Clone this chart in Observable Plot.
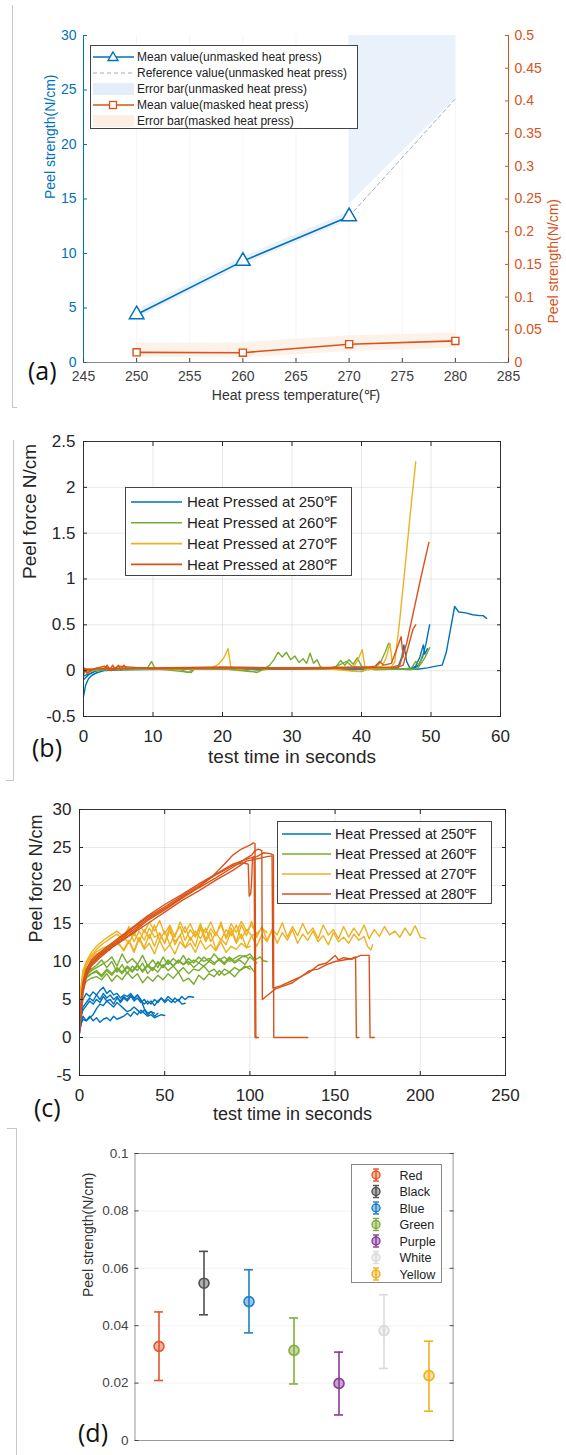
<!DOCTYPE html>
<html><head><meta charset="utf-8">
<script src="https://cdn.jsdelivr.net/npm/d3@7"></script>
<script src="https://cdn.jsdelivr.net/npm/@observablehq/plot@0.6"></script>
<style>
body{margin:0;background:#fff;}
#root{position:relative;width:566px;height:1455px;overflow:hidden;font-family:"Liberation Sans",Arial,sans-serif;}
.tag{position:absolute;font-family:"Open Sans",sans-serif;font-size:25px;line-height:1;color:#111;transform:translateY(-50%);}
.brk{position:absolute;background:#c8c8c8;}
</style></head><body><div id="root"></div><script>
// ---------------- Panel (a) data ----------------
const tempTicksA = [245,250,255,260,265,270,275,280,285];
const leftTicksA = [0,5,10,15,20,25,30];
const rightTicksA = [0,0.05,0.1,0.15,0.2,0.25,0.3,0.35,0.4,0.45,0.5];
const unmaskedTemps = [250,260,270];
const unmaskedMean = [4.4,9.3,13.4];
const referenceTemps = [270,280];
const referenceMean = [13.4,24.2];
const unmaskedBandTemps = [250,260,270,270,280];
const unmaskedBandLow = [4.0,8.9,13.0,14.5,24.2];
const unmaskedBandHigh = [4.8,9.7,13.8,31,31];
const maskedTemps = [250,260,270,280];
const maskedMean = [0.0155,0.015,0.028,0.033];
const maskedBandLow = [0.008,0.007,0.017,0.022];
const maskedBandHigh = [0.03,0.03,0.041,0.045];
const legendA = ["Mean value(unmasked heat press)","Reference value(unmasked heat press)","Error bar(unmasked heat press)","Mean value(masked heat press)","Error bar(masked heat press)"];

// ---------------- Panel (b) data ----------------
const ticksBx = [0,10,20,30,40,50,60];
const ticksBy = [-0.5,0,0.5,1,1.5,2,2.5];
const b250 = [
 [[0,-0.28],[0.3,-0.16],[0.7,-0.09],[1.2,-0.05],[2,-0.02],[3,0],[6,0.01],[12,0.015],[20,0.02],[30,0.015],[40,0.02],[46,0.02],[47.5,0.02],[48.2,0.06],[48.8,0.15],[49.3,0.3],[49.8,0.5]],
 [[0,-0.06],[1,-0.03],[2,0],[5,0.02],[15,0.02],[25,0.02],[35,0.02],[44,0.02],[45.2,0.03],[45.8,0.15],[46.1,0.28],[46.5,0.1],[47,0.02],[47.8,0.05],[48.4,0.15],[48.9,0.28],[49.1,0.18],[49.5,0.24]],
 [[0,-0.1],[0.8,-0.04],[2,0.01],[8,0.02],[18,0.02],[28,0.02],[38,0.02],[46,0.02],[48,0.015],[49.5,0.03],[50.7,0.05],[51.6,0.06],[52.2,0.2],[52.8,0.45],[53.4,0.7],[54,0.64],[55,0.63],[56,0.61],[57,0.6],[57.5,0.6],[58,0.57]]
];
const b260 = [
 [[0,0],[2,0.02],[6,0.02],[9.2,0.03],[9.8,0.1],[10.3,0.02],[14,0.01],[15,-0.02],[16,0.02],[22,0.02],[25,-0.02],[26,0.02],[26.8,0.06],[27.4,0.12],[28,0.2],[28.6,0.15],[29.2,0.2],[29.8,0.12],[30.4,0.16],[31,0.09],[31.6,0.13],[32.1,0.08],[32.6,0.19],[33.1,0.08],[33.6,0.12],[34.1,0.04],[35,0.02],[36.3,0.04],[37,0.11],[37.6,0.06],[38.2,0.12],[38.8,0.07],[39.4,0.14],[40,0.05],[41,0.01],[42,0.03],[42.8,0.1],[43.4,0.2],[43.9,0.3]],
 [[0,0.02],[5,0.01],[10,0.02],[13,0],[15.5,-0.02],[16,0.02],[20,0.02],[24,-0.01],[27,0.02],[32,0.02],[36,0.02],[40,-0.01],[41,0.02],[45,0.02],[47,0.01],[48,0.02],[48.6,0.08],[49.1,0.14],[49.5,0.2],[49.8,0.25]],
 [[0,-0.01],[5,0.02],[12,0.02],[20,0.03],[30,0.02],[35,0.02],[36.5,0.05],[37.8,0.1],[38.6,0.05],[40,0.03],[42,0.01],[46,0.02],[47.2,0.03],[47.8,0.1],[48.3,0.06],[48.8,0.18]]
];
const b270 = [
 [[0,0],[3,0.03],[10,0.02],[18.5,0.03],[19.4,0.07],[20.2,0.14],[20.8,0.24],[21.2,0.04],[22,0.02],[30,0.03],[38.8,0.03],[39.5,0.12],[40.1,0.23],[40.5,0.04],[41.5,0.02],[44.2,0.03],[44.8,0.1],[45.5,0.55],[46.3,1.15],[47,1.7],[47.8,2.28]],
 [[0,0.02],[5,0.03],[15,0.02],[25,0.03],[35,0.02],[39.5,-0.01],[42,0.03],[43,0.05],[43.6,0.15],[44.1,0.3],[44.4,0.1]]
];
const b280 = [
 [[0,-0.05],[0.3,0.02],[1,0],[2,0.03],[3,0.02],[3.4,0.06],[3.8,0.01],[4.2,0.06],[4.6,0.01],[5,0.06],[5.4,0.01],[5.8,0.06],[6.2,0.02],[8,0.03],[15,0.03],[25,0.03],[35,0.03],[42,0.03],[44.5,0.04],[45.5,0.06],[46.5,0.3],[47.5,0.65],[48.5,1.0],[49.7,1.4]],
 [[0,0.04],[0.5,-0.03],[1.5,0.02],[3,0.05],[4,0],[5,0.05],[10,0.02],[20,0.03],[30,0.02],[40,0.03],[42,0.05],[42.6,0.1],[43.2,0.06],[44.3,0.08],[44.9,0.2],[45.7,0.37],[46,0.15]],
 [[0,0.01],[2,0.02],[10,0.03],[20,0.04],[30,0.03],[40,0.04],[45,0.03],[46,0.06],[46.8,0.28],[47.4,0.45],[47.8,0.5]]
];

// ---------------- Panel (c) data ----------------
const ticksCx = [0,50,100,150,200,250];
const ticksCy = [-5,0,5,10,15,20,25,30];
const c250 = [
 [[0,0.8],[1,1.8],[2,2.4],[4,2.2],[6,2.8],[8,2.2],[10,2.6],[12,2.0],[14,2.4],[16,2.6],[18,2.2],[20,2.8],[22,2.4],[24,2.6],[26,2.8],[28,3.2],[30,2.8],[32,3.4],[34,3.0],[36,3.6],[38,3.2],[40,2.8],[42,3.0],[44,2.6],[46,2.8],[48,3.0],[50,2.9]],
 [[0,1],[1,2.8],[2,3.6],[4,4.2],[6,4.8],[8,4.4],[10,5],[12,4.6],[14,5.4],[16,4.8],[18,5],[20,4.4],[22,5.2],[24,4.8],[26,5.4],[28,5],[30,5.6],[32,4.8],[34,5.2],[36,4.6],[38,5],[40,4.4],[42,4.8],[44,4.2],[46,4.8],[48,5.2],[50,4.6],[52,5],[54,4.6],[56,5.2],[58,4.8],[60,5.4],[62,5],[64,5.4],[67,5.3]],
 [[0,1.5],[1,3],[2,4],[4,4.6],[6,5.2],[8,4.8],[10,5.6],[12,5],[14,5.8],[16,5.2],[18,5.6],[20,5],[22,5.4],[24,4.6],[26,5.2],[28,4.8],[30,5.4],[32,5],[34,5.6],[36,4.8],[38,4.4],[40,4.8],[42,4.4],[44,5],[46,4.6],[48,5.2],[50,4.8],[52,5.4],[54,5],[56,4.6],[58,5],[60,4.4],[62,4.5]],
 [[0,1],[1,3.5],[2,5],[4,5.8],[6,5.4],[8,6],[10,5.6],[12,6.2],[14,6.6],[16,5.8],[18,6.2],[20,5.6],[22,5.8],[24,5.2],[26,5.6],[28,5.4],[30,5.8],[32,5.2],[34,5.6],[36,5],[38,3.8],[40,3.2],[42,3.4],[44,2.8],[46,3.2]],
 [[0,0.5],[1,2],[2,2.8],[4,2.2],[6,2.6],[8,3],[10,3.8],[12,4.4],[14,4.2],[16,4.8],[18,4.4],[20,4],[22,4.6],[24,4.2],[26,3.8],[28,3.4],[30,3.6],[32,4],[34,3.6],[36,3.2],[38,3.6],[40,3],[42,3.4],[44,3.2]]
];
const c260 = [
 [[0,2],[1,5],[2,7],[4,8.2],[7,8.8],[10,9.2],[13,9.6],[16,10],[19,10.6],[22,9.4],[25,11],[28,9.8],[31,10.4],[34,9.6],[37,10.8],[40,9.4],[43,10.2],[46,9.2],[49,10.6],[52,9.6],[55,10.4],[58,9.8],[61,10.8],[64,9.6],[67,10.2],[70,9.8],[73,10.6],[76,10],[79,11],[82,10.2],[85,10.6],[88,10],[91,10.4],[94,10.8],[97,10.6],[100,11],[103,10.2],[106,10.6],[108,10.1],[110,10]],
 [[0,1.5],[1,4.5],[2,6.5],[4,7.4],[7,7.8],[10,8],[13,7.6],[16,8.4],[19,7.4],[22,8.2],[25,7.6],[28,8.6],[31,7.8],[34,8.4],[37,7.2],[40,8],[43,7.4],[46,8.2],[49,7.6],[52,8.4],[55,7.8],[58,8.6],[61,7.4],[64,7.8],[67,7],[70,8.2],[73,7.6],[76,8.4],[79,8],[82,8.8],[85,8.2],[88,8.6],[91,8],[94,8.8],[97,9.2],[100,9.4],[102,8.8],[103,8.5]],
 [[0,3],[1,6],[2,7.5],[4,8.5],[7,9],[10,9.5],[13,10.2],[16,9.2],[19,10],[22,8.6],[25,9.6],[28,8.4],[31,9.4],[34,8.8],[37,9.8],[40,8.4],[43,9.2],[46,8.6],[49,9.6],[52,8.8],[55,9.4],[58,8.6],[61,9.2],[64,8.4],[67,9],[70,8.8],[73,9.4],[76,8.6],[79,9],[82,8.2],[85,9],[88,8.6],[91,9.2],[94,8.8],[97,9.4],[100,9]],
 [[0,2.5],[1,5.5],[2,7.2],[4,8],[7,8.4],[10,8.8],[13,8.2],[16,9],[19,8.4],[22,9.2],[25,8.6],[28,9.4],[31,8.8],[34,9.6],[37,8.6],[40,9.4],[43,8.8],[46,10],[49,9.2],[52,10.2],[55,9.4],[58,10],[61,9.6],[64,10.4],[67,9.8],[70,10.6],[73,10],[76,10.4],[79,9.8],[82,10.2],[85,9.6],[88,10.4],[91,9.8],[94,10.2],[97,9.6],[100,10.6],[102,10.2],[104,9.8]],
 [[0,2],[1,5],[2,6.8],[4,7.8],[7,8.4],[10,8.6],[13,8],[16,8.8],[19,8.2],[22,9],[25,8.4],[28,9.2],[31,8.6],[34,9.4],[37,8.8],[40,9.6],[43,9],[46,9.8],[49,9.2],[52,10],[55,9.4],[58,10.2],[61,9.6],[64,10],[67,9.2],[70,9.8],[73,9.4],[76,10],[79,9.6],[82,10.4],[85,9.8],[88,10.6],[91,10],[94,10.4],[97,10.8],[99,10.4]]
];
const c270 = [
 [[0,3],[1,6],[2,8],[4,9.8],[7,10.8],[10,11.3],[14,11.8],[18,12.2],[22,12.5],[26,13.2],[29,12.4],[32,13.8],[35,12.6],[38,14.2],[41,13],[44,14.8],[47,12.8],[50,14],[53,12.2],[56,13.6],[59,14.6],[62,12.8],[65,14.2],[68,13.2],[71,15],[74,12.9],[77,14.3],[80,13.4],[83,15.2],[86,13],[89,14.4],[92,12.6],[95,14.8],[98,13.4],[101,15.3],[104,13.2],[107,14.6],[110,12.8],[113,14.2],[116,13.5],[119,15.1],[122,13.2],[125,14.6],[128,13.4],[131,15],[134,13.6],[137,14.4],[140,13],[143,14.8],[146,13.5],[149,14.2],[152,13],[155,14.6],[158,13.2],[161,14.4],[164,13.4],[167,14.8],[170,13],[173,14.2],[176,13.3],[179,14.6],[182,13.5],[185,14],[188,13.2],[191,14.4],[194,13.4],[197,14.7],[200,13.2],[203,13]],
 [[0,2],[1,5.5],[2,7.8],[4,9.5],[7,10.5],[10,11],[14,11.3],[18,11.8],[22,12.4],[26,11.6],[29,12.8],[32,11.4],[35,13.2],[38,11.8],[41,13.6],[44,12],[47,13.8],[50,12.4],[53,14.6],[56,12.2],[59,13.5],[62,11.8],[65,13.2],[68,12],[71,14.4],[74,12.6],[77,13.8],[80,11.6],[83,13],[86,12.2],[89,14],[92,12.4],[95,13.6],[98,11.8],[101,13.4],[104,12],[107,13.5],[110,12.6],[113,14.1],[116,12.4],[119,13.8],[122,12.8],[125,14.2],[128,12.4],[131,13.6],[134,12.8],[137,14],[140,12.6],[143,13.4],[146,12.2],[149,13.8],[152,12.6],[155,13.2],[158,12.4],[161,13.6],[164,12.8],[167,13.3],[169,12],[171,11.5],[172,12.2]],
 [[0,4],[1,7],[2,8.8],[4,10],[7,11.2],[10,12],[14,12.8],[18,13.4],[22,14],[26,13.2],[29,14.6],[32,13.4],[35,15],[38,13.8],[41,15.2],[44,14],[47,15.4],[50,13.6],[53,14.8],[56,13.2],[59,15.2],[62,13.8],[65,15],[68,13.4],[71,14.6],[74,13.8],[77,15.2],[80,13.6],[83,14.8],[86,13.2],[89,15],[92,13.8],[95,15.3],[98,14],[101,14.8],[104,13.6],[107,14.4],[110,13.8]],
 [[0,3.5],[1,6.5],[2,8.4],[4,9.8],[7,10.6],[10,11],[14,11.2],[18,11.6],[22,12.8],[26,11.4],[29,12.6],[32,11.2],[35,13],[38,11.6],[41,12.4],[44,11],[47,12.8],[50,11.4],[53,12.2],[56,11],[59,12.6],[62,11.8],[65,12.4],[68,11.2],[71,12.8],[74,11.6],[77,12.2],[80,11.4],[83,12.6],[86,11.2],[89,12],[92,11.6],[95,12.4],[98,11.8],[100,12]],
 [[0,2.5],[1,6],[2,8],[4,9.6],[7,10.8],[10,11.6],[14,12.4],[18,13],[22,13.6],[26,12.8],[29,14.2],[32,12.6],[35,14],[38,12.8],[41,14.4],[44,13.2],[47,13.6],[50,12.4],[53,14],[56,12.6],[59,13.4],[62,14.6],[65,12.8],[68,14],[71,13],[74,14.4],[77,12.6],[80,13.8],[83,12.8],[86,14.2],[89,13.4],[92,14.8],[95,13],[98,14.2],[101,13.4],[105,13.8]]
];
const c280 = [
 [[0,0.8],[1,4],[2,6.5],[4,8.5],[7,9.8],[12,10.8],[20,12.2],[30,13.9],[40,15.6],[50,17],[60,18.4],[70,19.8],[78,21.2],[85,22.8],[90,24],[95,24.8],[100,25.3],[102,25.6],[103,25.5],[103.5,0],[105,0]],
 [[0,1.2],[1,4.5],[2,7],[4,8.8],[7,10],[12,11],[20,12.4],[30,14.2],[40,15.8],[50,17.2],[60,18.6],[70,20],[80,21.4],[90,22.6],[96,23],[99,22.8],[99.6,18.6],[100.5,19],[101,20.5],[101.5,23.6],[102.5,23.8],[103,0],[104,0]],
 [[0,1],[1,3.8],[2,6],[4,8.2],[7,9.6],[12,10.7],[20,12],[30,13.6],[40,15.4],[50,16.8],[60,18.3],[70,19.7],[80,21],[90,22.4],[98,23.6],[101,24],[103,24.6],[105,24.8],[107,24.6],[107.3,5],[110,5.5],[115,6.4],[120,6.8],[125,7.2],[130,8],[135,8.8],[140,9],[145,9.6],[150,10],[155,10.2],[160,10.4],[162,10.6],[162.5,0],[164,0]],
 [[0,1.5],[1,5],[2,7.2],[4,9],[7,10.2],[12,11.2],[20,12.6],[30,14.3],[40,16],[50,17.5],[60,18.8],[70,20.2],[80,21.5],[90,22.8],[100,23.6],[104,23.8],[108,24.3],[112,24.2],[113.8,24],[114,0],[120,0],[134,0]],
 [[0,0.6],[1,3.5],[2,5.8],[4,8],[7,9.4],[12,10.5],[20,12],[30,13.5],[40,15],[50,16.5],[60,18],[70,19.3],[80,20.7],[90,22],[98,23.2],[102,23.4],[106,23.6],[110,23.8],[113,23.9],[113.5,6.5],[118,6.8],[125,7.5],[130,8],[135,8.6],[140,9.5],[145,9.8],[150,10.8],[152,10.2],[155,10.5],[160,10.3],[165,10.8],[170,10.8],[170.5,0],[173,0]]
];
const legendBC = ["Heat Pressed at 250℉","Heat Pressed at 260℉","Heat Pressed at 270℉","Heat Pressed at 280℉"];

// ---------------- Panel (d) data ----------------
const ticksDy = [0,0.02,0.04,0.06,0.08,0.1];
const colorNames = ["Red","Black","Blue","Green","Purple","White","Yellow"];
const colorMeans = [0.0328,0.0548,0.0484,0.0314,0.0199,0.0383,0.0226];
const colorHigh  = [0.0448,0.0659,0.0595,0.0427,0.0308,0.0508,0.0346];
const colorLow   = [0.0209,0.0438,0.0375,0.0197,0.0089,0.0251,0.0102];
const colorSwatch = ["#E2572B","#505050","#1F80C8","#82AE3C","#8A3A9A","#DADADA","#EDB120"];

// ---------------- styles ----------------
const FONT = "Liberation Sans, Arial, sans-serif";
const BLUE = "#0072BD", ORANGE = "#D95319", YELLOW = "#EDB120", GREEN = "#77AC30";
const tempColors = [BLUE, GREEN, YELLOW, ORANGE];
const root = document.getElementById("root");
function place(node, top){ node.style.position="absolute"; node.style.left="0px"; node.style.top=top+"px"; root.appendChild(node); }
const flat = groups => groups.flatMap((tr,k) => tr.map(([t,v]) => ({t, v, id:k})));
const plain = d => String(d);

// ---------------- Panel (a) ----------------
const meanData = unmaskedTemps.map((x,i)=>({x, y:unmaskedMean[i]}));
const refData = referenceTemps.map((x,i)=>({x, y:referenceMean[i]}));
const bandU = unmaskedBandTemps.map((x,i)=>({x, lo:unmaskedBandLow[i], hi:unmaskedBandHigh[i]}));
const bandM = maskedTemps.map((x,i)=>({x, lo:maskedBandLow[i], hi:maskedBandHigh[i]}));
const maskedData = maskedTemps.map((x,i)=>({x, v:maskedMean[i]}));
const R = 60; // right axis 0.5 <-> left axis 30
const plotA = Plot.plot({
  width:566, height:410, marginLeft:83, marginRight:58, marginTop:35, marginBottom:48,
  x:{domain:[245,285]}, y:{domain:[0,30]},
  style:{fontFamily:FONT, fontSize:"14px", background:"transparent"},
  marks:[
    Plot.gridX(tempTicksA, {stroke:"#000", strokeOpacity:0.045}),
    Plot.areaY(bandU, {x:"x", y1:"lo", y2:"hi", fill:"#e4eef9", fillOpacity:0.8, clip:true}),
    Plot.areaY(bandM, {x:"x", y1:d=>d.lo*R, y2:d=>d.hi*R, fill:"#fcefe4", fillOpacity:0.8}),
    Plot.line(refData, {x:"x", y:"y", stroke:"#9aaec6", strokeWidth:1, strokeDasharray:"4,3"}),
    Plot.line(meanData, {x:"x", y:"y", stroke:BLUE, strokeWidth:1.6}),
    Plot.dot(meanData, {x:"x", y:"y", symbol:"triangle", r:5.4, stroke:BLUE, fill:"white", strokeWidth:1.5}),
    Plot.line(maskedData, {x:"x", y:d=>d.v*R, stroke:ORANGE, strokeWidth:1.6}),
    Plot.dot(maskedData, {x:"x", y:d=>d.v*R, symbol:"square", r:4, stroke:ORANGE, fill:"white", strokeWidth:1.4}),
    Plot.ruleY([0], {stroke:"#8a8a8a"}),
    Plot.ruleX([245], {stroke:BLUE}),
    Plot.ruleX([285], {stroke:ORANGE}),
    Plot.axisX({ticks:tempTicksA, tickSize:-4, tickPadding:13, color:"#404040", label:null}),
    Plot.axisY({ticks:leftTicksA, anchor:"left", tickSize:-4, tickPadding:11, color:BLUE, label:null}),
    Plot.axisY({ticks:rightTicksA.map(v=>v*R), anchor:"right", tickSize:-4, tickPadding:10, color:ORANGE, label:null,
      tickFormat:d=>String(Math.round(d/R*100)/100)}),
    Plot.text(["Peel strength(N/cm)"], {text:d=>d, frameAnchor:"left", dx:-33, rotate:-90, fill:BLUE, fontSize:14}),
    Plot.text(["Peel strength(N/cm)"], {text:d=>d, frameAnchor:"right", dx:45, rotate:-90, fill:ORANGE, fontSize:14}),
    Plot.text(["Heat press temperature(℉)"], {text:d=>d, frameAnchor:"bottom", dy:37, fill:"#333", fontSize:14})
  ]
});
place(plotA, 0);

// ---------------- Panel (b) ----------------
const groupsB = [b250, b260, b270, b280];
const plotB = Plot.plot({
  width:566, height:370, marginLeft:83, marginRight:66, marginTop:21, marginBottom:74,
  x:{domain:[0,60]}, y:{domain:[-0.5,2.5]},
  style:{fontFamily:FONT, fontSize:"17px", background:"transparent", color:"#262626"},
  marks:[
    Plot.gridX(ticksBx, {strokeOpacity:0.1}),
    Plot.gridY(ticksBy, {strokeOpacity:0.1}),
    ...groupsB.map((g,k)=>Plot.line(flat(g), {x:"t", y:"v", z:"id", stroke:tempColors[k], strokeWidth:1.4, clip:true})),
    Plot.frame({stroke:"#333"}),
    Plot.axisX({ticks:ticksBx, tickSize:-4, tickPadding:17, tickFormat:plain, label:null}),
    Plot.axisX({ticks:ticksBx, anchor:"top", tickSize:-4, tickFormat:()=>"", label:null}),
    Plot.axisY({ticks:ticksBy, tickSize:-4, tickPadding:12, tickFormat:plain, label:null}),
    Plot.axisY({ticks:ticksBy, anchor:"right", tickSize:-4, tickFormat:()=>"", label:null}),
    Plot.text(["Peel force N/cm"], {text:d=>d, frameAnchor:"left", dx:-54, rotate:-90, fontSize:19}),
    Plot.text(["test time in seconds"], {text:d=>d, frameAnchor:"bottom", dy:46, fontSize:19})
  ]
});
place(plotB, 420);

// ---------------- Panel (c) ----------------
const groupsC = [c250, c260, c270, c280];
const plotC = Plot.plot({
  width:566, height:335, marginLeft:79, marginRight:61, marginTop:14, marginBottom:55,
  x:{domain:[0,250]}, y:{domain:[-5,30]},
  style:{fontFamily:FONT, fontSize:"17px", background:"transparent", color:"#262626"},
  marks:[
    Plot.gridX(ticksCx, {strokeOpacity:0.1}),
    Plot.gridY(ticksCy, {strokeOpacity:0.1}),
    ...groupsC.map((g,k)=>Plot.line(flat(g), {x:"t", y:"v", z:"id", stroke:tempColors[k], strokeWidth:1.4, clip:true})),
    Plot.frame({stroke:"#333"}),
    Plot.axisX({ticks:ticksCx, tickSize:-4, tickPadding:17, tickFormat:plain, label:null}),
    Plot.axisX({ticks:ticksCx, anchor:"top", tickSize:-4, tickFormat:()=>"", label:null}),
    Plot.axisY({ticks:ticksCy, tickSize:-4, tickPadding:12, tickFormat:plain, label:null}),
    Plot.axisY({ticks:ticksCy, anchor:"right", tickSize:-4, tickFormat:()=>"", label:null}),
    Plot.text(["Peel force N/cm"], {text:d=>d, frameAnchor:"left", dx:-43, rotate:-90, fontSize:18}),
    Plot.text(["test time in seconds"], {text:d=>d, frameAnchor:"bottom", dy:44, fontSize:18})
  ]
});
place(plotC, 795);

// ---------------- Panel (d) ----------------
const dataD = colorNames.map((name,i)=>({name, mean:colorMeans[i], hi:colorHigh[i], lo:colorLow[i], color:colorSwatch[i]}));
const plotD = Plot.plot({
  width:566, height:325, marginLeft:134.5, marginRight:113.4, marginTop:23, marginBottom:15,
  x:{type:"band", domain:colorNames, paddingInner:0.8, paddingOuter:0.4, axis:null},
  y:{domain:[0,0.1]}, color:{type:"identity"},
  style:{fontFamily:FONT, fontSize:"13.5px", background:"transparent", color:"#444"},
  marks:[
    Plot.gridY(ticksDy, {strokeOpacity:0.07}),
    Plot.ruleX(dataD, {x:"name", y1:"lo", y2:"hi", stroke:"color", strokeWidth:1.6}),
    Plot.tickY(dataD, {x:"name", y:"hi", stroke:"color", strokeWidth:1.6}),
    Plot.tickY(dataD, {x:"name", y:"lo", stroke:"color", strokeWidth:1.6}),
    Plot.dot(dataD, {x:"name", y:"mean", r:5, stroke:"color", fill:"color", fillOpacity:0.45, strokeWidth:1.6}),
    Plot.frame({stroke:"#999"}),
    Plot.axisY({ticks:ticksDy, tickSize:-4, tickPadding:10.5, tickFormat:plain, label:null}),
    Plot.axisY({ticks:ticksDy, anchor:"right", tickSize:-4, tickFormat:()=>"", label:null}),
    Plot.text(["Peel strength(N/cm)"], {text:d=>d, frameAnchor:"left", dx:-46, rotate:-90, fontSize:14, fill:"#333"})
  ]
});
place(plotD, 1130);

// ---------------- legends ----------------
function legend({left, top, w, h, y0, dy, labels, fs, tx, draw, border}) {
  const svg = d3.create("svg").attr("width", w).attr("height", h)
    .style("position","absolute").style("left", left+"px").style("top", top+"px").style("font-family", FONT);
  svg.append("rect").attr("x",0.5).attr("y",0.5).attr("width",w-1).attr("height",h-1).attr("fill","white").attr("stroke",border);
  labels.forEach((lab,i)=>{
    const y = y0 + i*dy;
    draw(svg, i, y);
    svg.append("text").attr("x",tx).attr("y",y).attr("dy","0.36em").attr("font-size",fs).attr("fill","#222").text(lab);
  });
  root.appendChild(svg.node());
}
legend({left:90, top:45, w:268, h:84, y0:12, dy:16, labels:legendA, fs:12, tx:47, border:"#444",
  draw:(svg,i,y)=>{
    if (i===0 || i===3) {
      const c = i===0 ? BLUE : ORANGE;
      svg.append("line").attr("x1",3).attr("x2",44).attr("y1",y).attr("y2",y).attr("stroke",c).attr("stroke-width",1.5);
      if (i===0) svg.append("path").attr("d",`M${23},${y-5}L${28},${y+3.5}L${18},${y+3.5}Z`).attr("fill","white").attr("stroke",c).attr("stroke-width",1.4);
      else svg.append("rect").attr("x",19.5).attr("y",y-3.5).attr("width",7).attr("height",7).attr("fill","white").attr("stroke",c).attr("stroke-width",1.3);
    } else if (i===1) {
      svg.append("line").attr("x1",3).attr("x2",44).attr("y1",y).attr("y2",y).attr("stroke","#9aaec6").attr("stroke-dasharray","4,3");
    } else {
      svg.append("rect").attr("x",3).attr("y",y-6).attr("width",41).attr("height",12).attr("fill", i===2 ? "#e4eef9" : "#fcefe4");
    }
  }});
const lineLegend = (svg,i,y,x1,x2) => svg.append("line").attr("x1",x1).attr("x2",x2).attr("y1",y).attr("y2",y).attr("stroke",tempColors[i]).attr("stroke-width",1.6);
legend({left:125, top:487, w:227, h:89, y0:15, dy:20.8, labels:legendBC, fs:15, tx:62, border:"#444",
  draw:(svg,i,y)=>lineLegend(svg,i,y,6,57)});
legend({left:277, top:821, w:215, h:83, y0:13, dy:20, labels:legendBC, fs:14.2, tx:58, border:"#444",
  draw:(svg,i,y)=>lineLegend(svg,i,y,5,54)});
legend({left:351, top:1164, w:91, h:119, y0:11, dy:16.5, labels:colorNames, fs:12.5, tx:48.5, border:"#888",
  draw:(svg,i,y)=>{
    const c = colorSwatch[i];
    svg.append("line").attr("x1",25).attr("x2",25).attr("y1",y-6).attr("y2",y+6).attr("stroke",c).attr("stroke-width",1.4);
    svg.append("line").attr("x1",22).attr("x2",28).attr("y1",y-6).attr("y2",y-6).attr("stroke",c).attr("stroke-width",1.4);
    svg.append("line").attr("x1",22).attr("x2",28).attr("y1",y+6).attr("y2",y+6).attr("stroke",c).attr("stroke-width",1.4);
    svg.append("circle").attr("cx",25).attr("cy",y).attr("r",4).attr("fill",c).attr("fill-opacity",0.45).attr("stroke",c).attr("stroke-width",1.4);
  }});

// ---------------- panel tags and page marks ----------------
[["(a)",28,370],["(b)",32,747],["(c)",34,1107],["(d)",78,1432]].forEach(([t,x,y])=>{
  const d = document.createElement("div"); d.className="tag"; d.textContent=t;
  d.style.left=x+"px"; d.style.top=y+"px"; root.appendChild(d);
});
[[12,5,1,402],[12,407,5,1],[13,440,1,340],[6,780,8,1],[16,1128,1,327],[7,1128,9,1]].forEach(([x,y,w,h])=>{
  const d = document.createElement("div"); d.className="brk";
  Object.assign(d.style,{left:x+"px",top:y+"px",width:w+"px",height:h+"px"}); root.appendChild(d);
});
</script></body></html>
